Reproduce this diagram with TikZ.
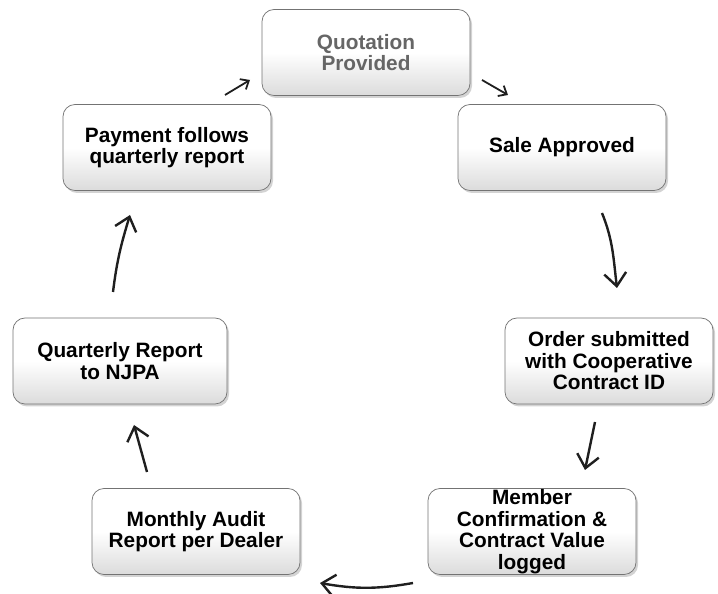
\documentclass[tikz,border=0pt]{standalone}
\usepackage{fontspec}
\setmainfont{Liberation Sans}
\usetikzlibrary{arrows.meta,shadows}

\begin{document}
\begin{tikzpicture}[x = 1pt, y = 1pt, line width = 2.4pt,
                    card/.style = {rounded corners = 12pt, draw = black!55, line width = 0.7pt,
                                   top color = white, bottom color = black!14, middle color = white,
                                   drop shadow = {shadow xshift = 2pt, shadow yshift = -2.5pt, opacity = 0.35},
                                   minimum width = 208pt, minimum height = 86pt, inner sep = 0pt,
                                   align = center, font = \bfseries\fontsize{20.8}{21.5}\selectfont},
                    flow/.style = {-{Straight Barb[length = 13pt, width = 22pt]}, black!88},
                    flowsmall/.style = {-{Straight Barb[length = 7pt, width = 12pt]}, line width = 1.8pt, black!88}]
      \useasboundingbox (0, 0) rectangle (718, 594);
      \node [card, text = black!60] (quo) at (366, 541.5) {Quotation\\Provided};
      \node [card] (sale) at (562, 446.5) {Sale Approved};
      \node [card] (order) at (609, 233) {Order submitted\\with Cooperative\\Contract ID};
      \node [card] (member) at (532, 62.5) {Member\\Confirmation \&\\Contract Value\\logged};
      \node [card] (audit) at (196, 62.5) {Monthly Audit\\Report per Dealer};
      \node [card, minimum width = 214pt] (qrep) at (120, 233) {Quarterly Report\\to NJPA};
      \node [card] (pay) at (167, 446.5) {Payment follows\\quarterly report};
      \draw [flowsmall] ([shift={(58, 52.5)}]pay.center) -- ([shift={(-116, -27.5)}]quo.center);
      \draw [flowsmall] ([shift={(116, -27.5)}]quo.center) -- ([shift={(-54, 52.5)}]sale.center);
      \draw [flow] ([shift={(40, -65.5)}]sale.center) to [out = -68, in = 97] ([shift={(8, 73)}]order.center);
      \draw [flow] ([shift={(-14, -61)}]order.center) -- ([shift={(53, 61.5)}]member.center);
      \draw [flow] ([shift={(-119, -51.5)}]member.center) to [out = 190, in = -10] ([shift={(124, -51.5)}]audit.center);
      \draw [flow] ([shift={(-49, 59.5)}]audit.center) -- ([shift={(14, -64)}]qrep.center);
      \draw [flow] ([shift={(-7, 69)}]qrep.center) to [out = 83, in = -107] ([shift={(-37, -67.5)}]pay.center);
\end{tikzpicture}
\end{document}
